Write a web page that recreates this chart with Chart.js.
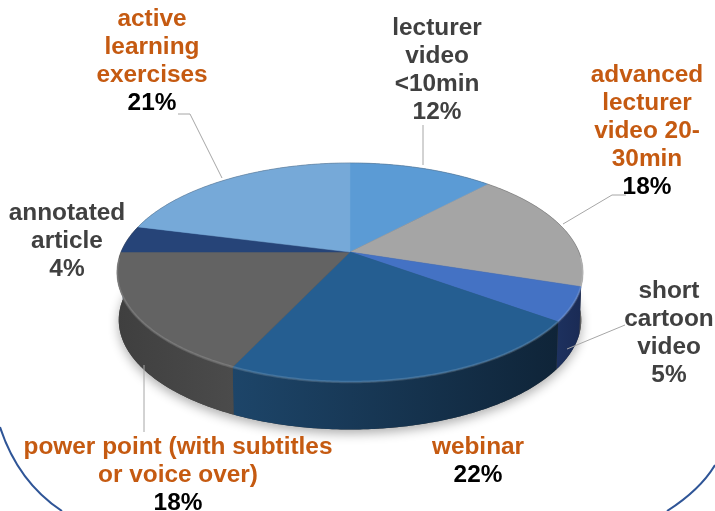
<!DOCTYPE html>
<html><head><meta charset="utf-8">
<style>html,body{margin:0;padding:0;background:#fff}canvas{display:block}</style>
<script src="https://cdn.jsdelivr.net/npm/chart.js@4"></script>
</head><body><canvas id="c" width="715" height="511"></canvas>
<script>
const categories = ["lecturer video <10min","advanced lecturer video 20-30min","short cartoon video","webinar","power point (with subtitles or voice over)","annotated article","active learning exercises"];
const values = [12,18,5,22,18,4,21];
const percentLabels = ["12%","18%","5%","22%","18%","4%","21%"];
const labelLines = [["lecturer","video","<10min"],["advanced","lecturer","video 20-","30min"],["short","cartoon","video"],["webinar"],["power point (with subtitles","or voice over)"],["annotated","article"],["active","learning","exercises"]];
const topColors = ["#5B9BD5","#A5A5A5","#4472C4","#255E91","#636363","#264478","#76A9D8"];
const rimLeft  = ["#3f6f9f","#6b6b6b","#1d315f","#1d4569","#3f3f3f","#1a2f55","#4f7fae"];
const rimRight = ["#3f6f9f","#5a5a5a","#1a2b55","#0f2438","#4b4b4b","#1a2f55","#4f7fae"];
const nameColors = ["#404040","#C55A11","#404040","#C55A11","#C55A11","#404040","#C55A11"];
const pctColors  = ["#404040","#000000","#404040","#000000","#000000","#404040","#000000"];
const labelCenterX = [437,647,669,478,178,67,152];
const labelCenterY = [27,74,290,446,446,212,18];
const lineGap = 28;
const leaders = [[[423,165],[423,125]],[[563,224],[612,195],[626,195]],[[567,349],[625,325]],[],[[144,365],[144,432]],[],[[222,178],[190,114],[178,114]]];
const P = {cx:350, cy:252, rx:229, a:105.7, p:0.187, depth:47.5, narrow:0.008};

function project(angle, lift){ // angle as in Chart.js: 0 = +x, clockwise
  const u = Math.cos(angle), v = Math.sin(angle);
  const k = 1/(1 - P.p*v);
  return {x:P.cx + P.rx*u*k*(1-P.narrow*lift), y:P.cy + P.a*v*k + lift*P.depth};
}
function arcPoints(a0,a1,lift){
  const n = Math.max(2,Math.ceil(Math.abs(a1-a0)/0.01)), pts=[];
  for(let i=0;i<=n;i++) pts.push(project(a0+(a1-a0)*i/n,lift));
  return pts;
}
function tracePts(ctx,pts,move){pts.forEach((q,i)=>{(i===0&&move)?ctx.moveTo(q.x,q.y):ctx.lineTo(q.x,q.y);});}

const pie3d = {
  id:'pie3d',
  beforeDatasetDraw(chart,args){
    const ctx = chart.ctx, arcs = chart.getDatasetMeta(0).data;
    ctx.save();
    ctx.save();
    ctx.shadowColor='rgba(0,0,0,0.32)';ctx.shadowBlur=11;ctx.shadowOffsetY=4;ctx.fillStyle='#444';
    ctx.beginPath();tracePts(ctx,arcPoints(0,Math.PI*2,1),true);ctx.closePath();ctx.fill();
    ctx.restore();
    arcs.forEach((el,i)=>{
      const a0=el.startAngle,a1=el.endAngle;
      const top=arcPoints(a0,a1,0),bot=arcPoints(a0,a1,1);
      const xs=top.concat(bot).map(q=>q.x);
      const g=ctx.createLinearGradient(Math.min(...xs),0,Math.max(...xs)+0.01,0);
      g.addColorStop(0,rimLeft[i]);g.addColorStop(1,rimRight[i]);
      ctx.fillStyle=g;
      ctx.beginPath();tracePts(ctx,top,true);tracePts(ctx,bot.slice().reverse(),false);ctx.closePath();ctx.fill();
    });
    const c={x:P.cx,y:P.cy};
    arcs.forEach((el,i)=>{
      ctx.fillStyle=topColors[i];ctx.strokeStyle=topColors[i];ctx.lineWidth=0.5;
      ctx.beginPath();ctx.moveTo(c.x,c.y);tracePts(ctx,arcPoints(el.startAngle,el.endAngle,0),false);ctx.closePath();ctx.fill();ctx.stroke();
    });
    arcs.forEach((el,i)=>{
      const pts=arcPoints(el.startAngle,el.endAngle,0);
      const sinAt=j=>Math.sin(el.startAngle+(el.endAngle-el.startAngle)*j/(pts.length-1));
      ctx.beginPath();tracePts(ctx,pts.filter((q,j)=>sinAt(j)>0.05),true);
      ctx.strokeStyle='rgba(255,255,255,0.14)';ctx.lineWidth=2.5;ctx.stroke();
      ctx.beginPath();tracePts(ctx,pts.filter((q,j)=>sinAt(j)<=0.05),true);
      ctx.strokeStyle='rgba(90,90,90,0.3)';ctx.lineWidth=1;ctx.stroke();
    });
    ctx.restore();
    return false;
  },
  afterDraw(chart){
    const ctx=chart.ctx;
    ctx.save();
    ctx.strokeStyle='#A6A6A6';ctx.lineWidth=1;
    leaders.forEach(l=>{if(!l.length)return;ctx.beginPath();l.forEach((q,i)=>i?ctx.lineTo(q[0],q[1]):ctx.moveTo(q[0],q[1]));ctx.stroke();});
    ctx.font='bold 24.4px "Liberation Sans", Arial, sans-serif';ctx.textAlign='center';ctx.textBaseline='middle';
    labelLines.forEach((lines,i)=>{
      const x=labelCenterX[i];let y=labelCenterY[i]+1;
      ctx.fillStyle=nameColors[i];
      lines.forEach(t=>{ctx.fillText(t,x,y);y+=lineGap;});
      ctx.fillStyle=pctColors[i];ctx.fillText(percentLabels[i],x,y);
    });
    ctx.strokeStyle='#2F5597';ctx.lineWidth=2;
    ctx.beginPath();ctx.moveTo(0,427);ctx.quadraticCurveTo(18,482,62,511);ctx.stroke();
    ctx.beginPath();ctx.moveTo(715,465);ctx.quadraticCurveTo(700,490,667,511);ctx.stroke();
    ctx.restore();
  }
};

new Chart(document.getElementById('c'),{
  type:'pie',
  data:{labels:categories,datasets:[{data:values,backgroundColor:topColors,borderWidth:0}]},
  options:{responsive:false,animation:false,events:[],
    plugins:{legend:{display:false},tooltip:{enabled:false}}},
  plugins:[pie3d]
});
</script></body></html>
